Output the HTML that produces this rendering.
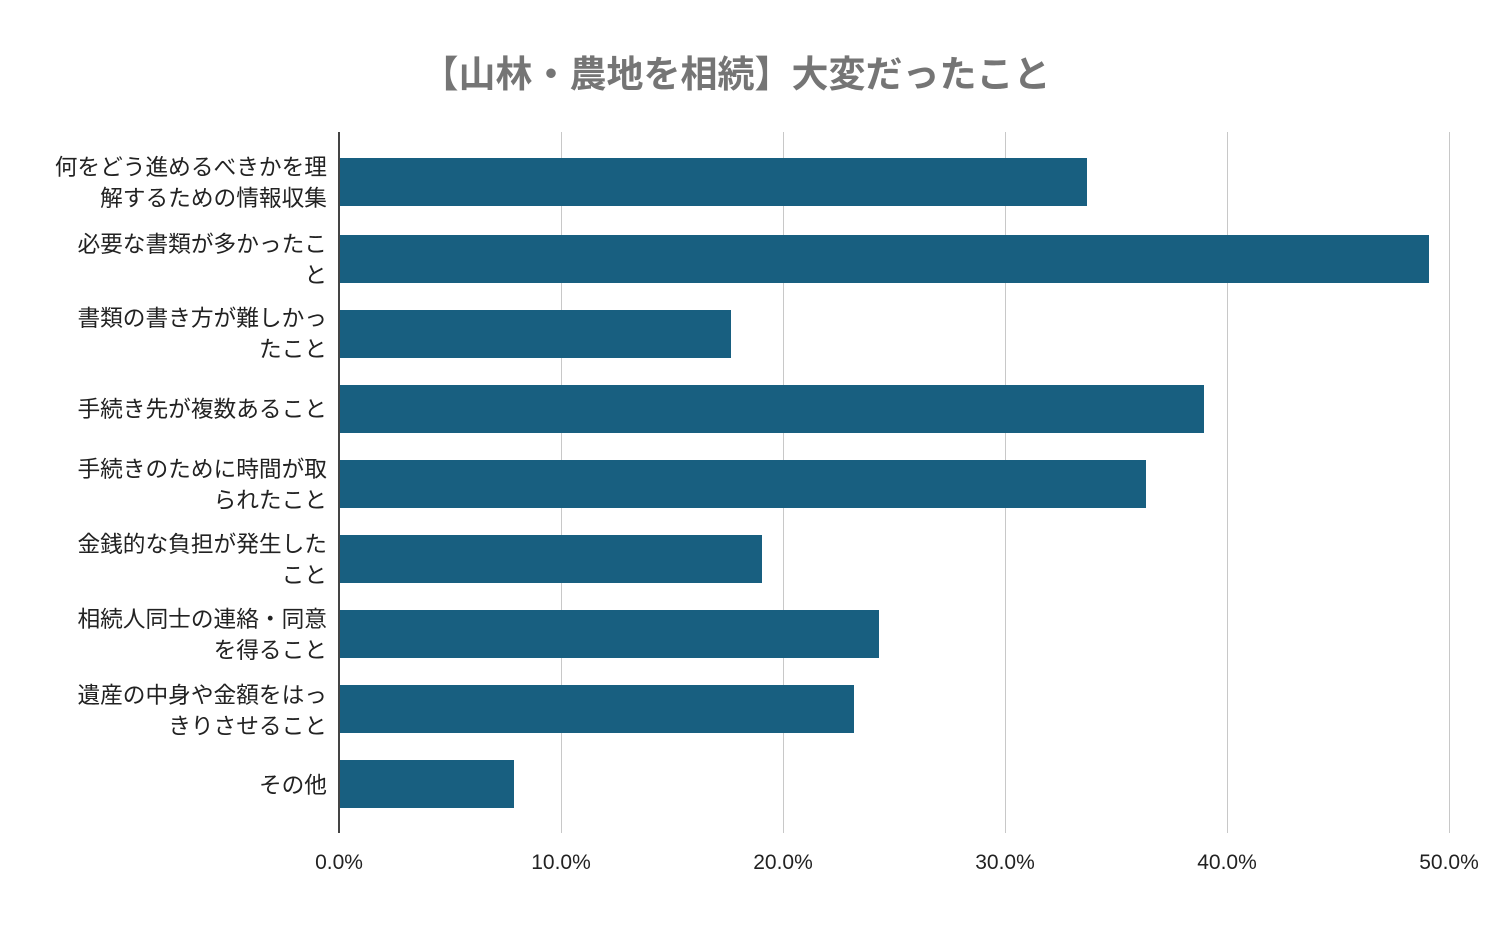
<!DOCTYPE html>
<html><head><meta charset="utf-8"><style>
body{margin:0;width:1496px;height:925px;background:#fff;overflow:hidden;position:relative;font-family:"Liberation Sans","Noto Sans CJK JP",sans-serif}
.t{position:absolute;left:0;width:1472px;top:50px;text-align:center;font-size:37px;font-weight:bold;color:#757575;line-height:50px}
.g{position:absolute;top:132px;height:701px;width:1px;background:#c8c8c8}
.b{position:absolute;left:340px;height:48px;background:#185f80}
.l{position:absolute;right:1169px;width:300px;text-align:right;font-size:22.7px;line-height:31px;color:#222}
.x{position:absolute;top:851px;width:100px;margin-left:-50px;text-align:center;font-size:21px;color:#222}
</style></head><body>
<div class="t">【山林・農地を相続】大変だったこと</div>
<div class="g" style="left:561px"></div><div class="g" style="left:783px"></div><div class="g" style="left:1005px"></div><div class="g" style="left:1227px"></div><div class="g" style="left:1449px"></div>
<div class="b" style="top:158px;width:747px"></div>
<div class="b" style="top:235px;width:1089px"></div>
<div class="b" style="top:310px;width:391px"></div>
<div class="b" style="top:385px;width:864px"></div>
<div class="b" style="top:460px;width:806px"></div>
<div class="b" style="top:535px;width:422px"></div>
<div class="b" style="top:610px;width:539px"></div>
<div class="b" style="top:685px;width:514px"></div>
<div class="b" style="top:760px;width:174px"></div>
<div style="position:absolute;left:338px;top:132px;width:2px;height:701px;background:#444"></div>
<div class="l" style="top:152px">何をどう進めるべきかを理<br>解するための情報収集</div>
<div class="l" style="top:229px">必要な書類が多かったこ<br>と</div>
<div class="l" style="top:303px">書類の書き方が難しかっ<br>たこと</div>
<div class="l" style="top:394px">手続き先が複数あること</div>
<div class="l" style="top:454px">手続きのために時間が取<br>られたこと</div>
<div class="l" style="top:529px">金銭的な負担が発生した<br>こと</div>
<div class="l" style="top:604px">相続人同士の連絡・同意<br>を得ること</div>
<div class="l" style="top:680px">遺産の中身や金額をはっ<br>きりさせること</div>
<div class="l" style="top:770px">その他</div>
<div class="x" style="left:339px">0.0%</div><div class="x" style="left:561px">10.0%</div><div class="x" style="left:783px">20.0%</div><div class="x" style="left:1005px">30.0%</div><div class="x" style="left:1227px">40.0%</div><div class="x" style="left:1449px">50.0%</div>
</body></html>
